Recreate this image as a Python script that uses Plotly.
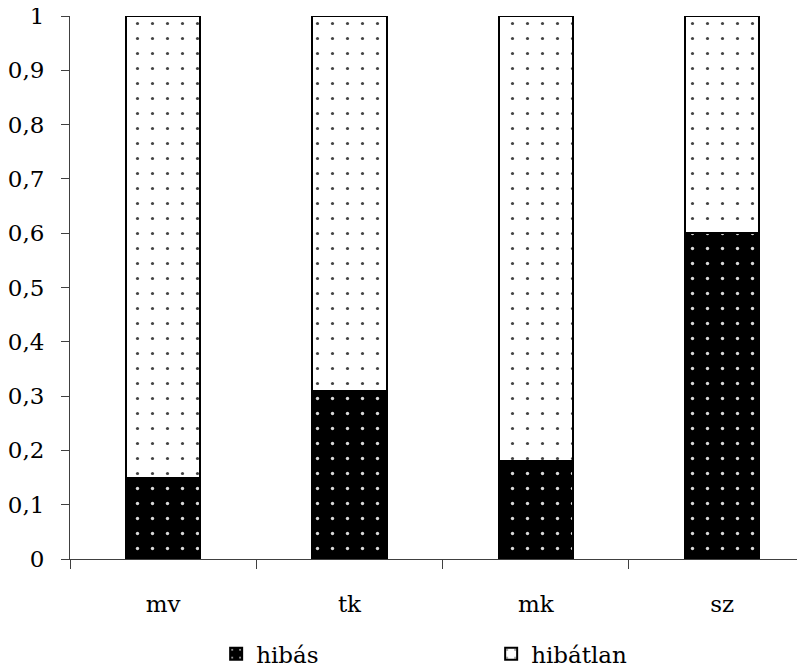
import plotly.graph_objects as go

categories = ["mv", "tk", "mk", "sz"]
hibas = [0.15, 0.31, 0.18, 0.60]
hibatlan = [0.85, 0.69, 0.82, 0.40]

FONT = "DejaVu Serif"

fig = go.Figure()
fig.add_trace(go.Bar(
    name="hibás", x=categories, y=hibas, width=0.4, cliponaxis=False,
    marker=dict(color="black", line=dict(color="black", width=2),
                pattern=dict(shape=".", bgcolor="black", fgcolor="#d8d8d8",
                             size=15, solidity=0.04, fillmode="replace")),
))
fig.add_trace(go.Bar(
    name="hibátlan", x=categories, y=hibatlan, width=0.4, cliponaxis=False,
    marker=dict(color="white", line=dict(color="black", width=2),
                pattern=dict(shape=".", bgcolor="white", fgcolor="#444444",
                             size=15, solidity=0.035, fillmode="replace")),
))

fig.update_layout(
    barmode="stack",
    width=797, height=663,
    margin=dict(l=62, r=0, t=8, b=112, autoexpand=False),
    plot_bgcolor="white", paper_bgcolor="white",
    separators=", ",
    font=dict(family=FONT, size=23, color="black"),
    showlegend=True,
    legend=dict(orientation="h", x=0.573, xanchor="center",
                yref="container", y=0.026, yanchor="middle",
                font=dict(family=FONT, size=23, color="black"),
                entrywidth=230, traceorder="normal"),
)
fig.update_xaxes(
    range=[-0.5, 3.445], automargin=False,
    showline=True, linecolor="#404040", linewidth=1,
    ticks="outside", tickson="boundaries", ticklen=9, tickcolor="#404040",
    ticklabelstandoff=24, showgrid=False, zeroline=False,
    tickfont=dict(family=FONT, size=23, color="black"),
)
fig.update_yaxes(
    range=[0, 1], dtick=0.1, tick0=0, automargin=False,
    showline=True, linecolor="#404040", linewidth=1,
    ticks="outside", ticklen=8, tickcolor="#404040",
    ticklabelstandoff=12, showgrid=False, zeroline=False, ticklabeloverflow="allow",
    tickfont=dict(family=FONT, size=23, color="black"),
)

fig.write_html("out.html")
